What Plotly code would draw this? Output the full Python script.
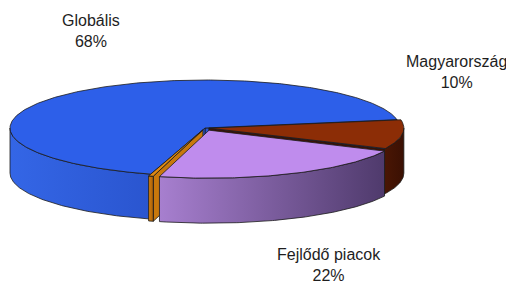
import numpy as np
import plotly.graph_objects as go

# ---- data ----
labels = ["Globális", "Egyéb", "Fejlődő piacok", "Magyarország"]
values = [68, 0.4, 22, 10]
show_label = [True, False, True, True]

# ---- style ----
top_colors = ["#2d5fe9", "#e08a12", "#bf8ced", "#8c2d06"]
side_scales = [
    [[0, "#3466e6"], [1, "#2a55cf"]],
    [[0, "#d47e0c"], [1, "#a8600a"]],
    [[0, "#a77fcf"], [1, "#4f3a6c"]],
    [[0, "#4a1604"], [1, "#3a1003"]],
]
face_colors = ["#2a55d0", "#c8780c", "#8e68b8", "#3e1203"]
explode = [0.0, 0.04, 0.05, 0.02]
label_pos = [(91, 31), None, (329, 265), (456, 72)]

W, Hpx = 506, 284
CX, CY, A, B, DEPTH = 205, 128, 195, 48, 45
START = 10.0
OUTLINE = "#1a1a1a"

vals = np.array(values, dtype=float)
fr = vals / vals.sum()
edges = START + 360 * np.concatenate([[0], np.cumsum(fr)])


def proj(px, py, z, off):
    X = CX + A * (px + off[0])
    Y = CY - B * (py + off[1]) + DEPTH * z
    return X, Y


def arc(t1, t2, n=None):
    if n is None:
        n = max(3, int(abs(t2 - t1) * 1.5))
    return np.radians(np.linspace(t1, t2, n))


side_items = []
top_items = []
for i in range(len(vals)):
    t1, t2 = edges[i], edges[i + 1]
    mid = np.radians((t1 + t2) / 2)
    off = (explode[i] * np.cos(mid), explode[i] * np.sin(mid))

    # top surface
    th = arc(t1, t2)
    xs = [proj(0, 0, 0, off)[0]] + [proj(np.cos(t), np.sin(t), 0, off)[0] for t in th]
    ys = [proj(0, 0, 0, off)[1]] + [proj(np.cos(t), np.sin(t), 0, off)[1] for t in th]
    xs.append(xs[0]); ys.append(ys[0])
    top_items.append(dict(x=xs, y=ys, fillcolor=top_colors[i]))

    # radial faces
    for t, visible in ((t1, np.cos(np.radians(t1)) > 0), (t2, np.cos(np.radians(t2)) < 0)):
        if not visible:
            continue
        r = np.radians(t)
        pts = [proj(0, 0, 0, off), proj(np.cos(r), np.sin(r), 0, off),
               proj(np.cos(r), np.sin(r), 1, off), proj(0, 0, 1, off)]
        pts.append(pts[0])
        depth = 0.5 * np.sin(r) + off[1]
        side_items.append((depth, dict(x=[p[0] for p in pts], y=[p[1] for p in pts],
                                       fillcolor=face_colors[i])))

    # outer (front) side
    for k in (-1, 0, 1):
        a0, a1 = 180 + 360 * k, 360 + 360 * k
        lo, hi = max(t1, a0), min(t2, a1)
        if hi - lo <= 0.01:
            continue
        th = arc(lo, hi)
        topp = [proj(np.cos(t), np.sin(t), 0, off) for t in th]
        botp = [proj(np.cos(t), np.sin(t), 1, off) for t in th[::-1]]
        pts = topp + botp + [topp[0]]
        depth = np.sin(np.radians((lo + hi) / 2)) + off[1]
        side_items.append((depth, dict(x=[p[0] for p in pts], y=[p[1] for p in pts],
                                       fillgradient=dict(type="horizontal",
                                                         colorscale=side_scales[i]))))

fig = go.Figure()
for depth, it in sorted(side_items, key=lambda d: -d[0]):
    fig.add_trace(go.Scatter(mode="lines", fill="toself",
                             line=dict(color=OUTLINE, width=0.8),
                             hoverinfo="skip", showlegend=False, **it))
for it in top_items:
    fig.add_trace(go.Scatter(mode="lines", fill="toself",
                             line=dict(color=OUTLINE, width=0.8),
                             hoverinfo="skip", showlegend=False, **it))

for i, lab in enumerate(labels):
    if not show_label[i]:
        continue
    pct = round(100 * fr[i])
    fig.add_annotation(x=label_pos[i][0], y=label_pos[i][1], xref="x", yref="y",
                       text=f"{lab}<br>{pct}%", showarrow=False,
                       font=dict(family="Liberation Sans, Arial, sans-serif", size=16, color="#1e1e1e"),
                       align="center")

fig.update_layout(
    width=W, height=Hpx, margin=dict(l=0, r=0, t=0, b=0),
    paper_bgcolor="white", plot_bgcolor="white",
    xaxis=dict(range=[0, W], visible=False, fixedrange=True),
    yaxis=dict(range=[Hpx, 0], visible=False, fixedrange=True),
)
fig.write_html("out.html", config={"displayModeBar": False},
               post_script="document.body.style.margin='0';document.body.style.padding='0';")
